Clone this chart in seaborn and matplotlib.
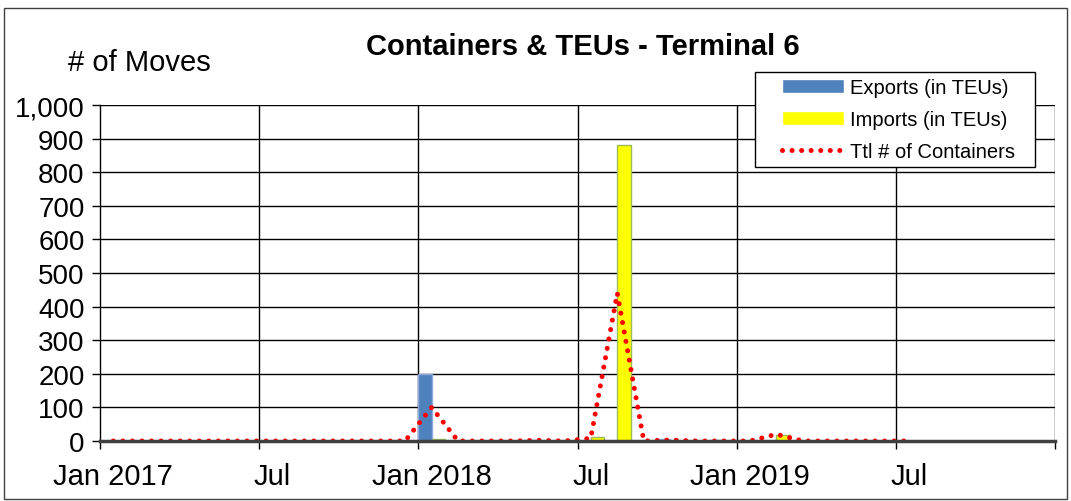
import pandas as pd
import matplotlib
matplotlib.use("Agg")
import matplotlib.pyplot as plt
import matplotlib.patches as mpatches
from matplotlib.ticker import FixedLocator, StrMethodFormatter
import seaborn as sns
import numpy as np

# Months on the axis (Jan 2017 - Dec 2019)
months = pd.date_range("2017-01-01", "2019-12-01", freq="MS").strftime("%Y-%m").tolist()

# Values Jan 2017 - Jul 2019 (31 months)
exports = [0, 0, 0, 0, 0, 0, 0, 0, 0, 0, 0, 0,
           200, 0, 0, 0, 3, 0, 0, 0, 0, 6, 0, 3,
           0, 0, 0, 0, 0, 0, 0]
imports = [0, 0, 0, 0, 0, 0, 0, 0, 0, 0, 0, 0,
           5, 0, 0, 0, 0, 0, 12, 880, 0, 0, 0, 0,
           0, 18, 0, 0, 0, 0, 0]
containers = [0, 0, 0, 0, 0, 0, 0, 0, 0, 0, 0, 0,
              100, 0, 0, 0, 2, 0, 8, 440, 0, 3, 0, 0,
              0, 20, 0, 0, 0, 0, 0]

tick_labels = ["Jan 2017", "Jul", "Jan 2018", "Jul", "Jan 2019", "Jul"]

n = len(exports)
df = pd.DataFrame({
    "month": months[:n] * 2,
    "series": ["Exports (in TEUs)"] * n + ["Imports (in TEUs)"] * n,
    "value": exports + imports,
})

sns.set_style("white")
plt.rcParams["font.family"] = ["Liberation Sans", "DejaVu Sans"]
plt.rcParams["text.color"] = "black"
plt.rcParams["xtick.color"] = "black"
plt.rcParams["ytick.color"] = "black"

fig = plt.figure(figsize=(10.71, 5.02), dpi=100)
ax = fig.add_axes([100 / 1071, 1 - 442 / 502, 955 / 1071, 336 / 502])

sns.barplot(data=df, x="month", y="value", hue="series", order=months,
            hue_order=["Exports (in TEUs)", "Imports (in TEUs)"],
            palette=["#4F81BD", "#FFFF00"], saturation=1, width=1.0, gap=0, dodge=True,
            errorbar=None, ax=ax, zorder=3)

edge_cols = ["#8EA9DB", "#9BBB59"]
for cont, ec in zip(ax.containers, edge_cols):
    for p in cont:
        p.set_edgecolor(ec)
        p.set_linewidth(1)

sns.lineplot(x=np.arange(n), y=containers, ax=ax, color="#FF0000",
             linewidth=3.6, dashes=False, label="Ttl # of Containers", zorder=4)
line = ax.lines[-1]
line.set_linestyle((0, (0.01, 1.9)))
line.set_dash_capstyle("round")

ax.set_xlim(-0.5, len(months) - 0.5)
ax.set_ylim(0, 1000)
ax.set_xlabel("")
ax.set_ylabel("")

# gridlines and ticks
ax.yaxis.set_major_locator(FixedLocator(np.arange(0, 1001, 100)))
ax.yaxis.set_major_formatter(StrMethodFormatter("{x:,.0f}"))
ax.grid(axis="y", color="black", linewidth=1, zorder=0)
ax.set_axisbelow(True)

grid_x = np.arange(-0.5, len(months), 6)
ax.set_xticks(grid_x)
ax.set_xticklabels([""] * len(grid_x))
ax.set_xticks(np.arange(0, 36, 6), minor=True)
ax.set_xticklabels(tick_labels, minor=True)
for gx in grid_x[1:]:
    ax.axvline(gx, color="black", linewidth=1, zorder=0)

ax.tick_params(axis="x", which="major", direction="out", length=6, width=1, color="black")
ax.tick_params(axis="x", which="minor", length=0, pad=15, labelsize=21)
ax.tick_params(axis="y", direction="out", length=6, width=1, color="black", labelsize=20, pad=5)
ax.tick_params(left=True, bottom=True)

for s in ["top", "right"]:
    ax.spines[s].set_visible(False)
ax.spines["left"].set_color("black")
ax.spines["left"].set_linewidth(1)
ax.spines["bottom"].set_color("#404040")
ax.spines["bottom"].set_linewidth(2.5)
ax.spines["bottom"].set_zorder(5)

# legend: box drawn separately so the padding can differ per side
box = mpatches.Rectangle((755 / 1071, 1 - 168 / 502), 280 / 1071, 95 / 502,
                         transform=fig.transFigure, facecolor="white", edgecolor="black",
                         linewidth=1, clip_on=False, zorder=6)
ax.add_patch(box)
handles, labels = ax.get_legend_handles_labels()
leg = ax.legend(handles, labels, loc="upper left", bbox_to_anchor=(782 / 1071, 1 - 79 / 502),
                bbox_transform=fig.transFigure, borderaxespad=0, borderpad=0, fontsize=14.5,
                frameon=False, handlelength=3.1, labelspacing=0.65, handletextpad=0.3)
leg.set_zorder(7)

fig.text(583 / 1071, 1 - 47 / 502, "Containers & TEUs - Terminal 6", ha="center", va="center",
         fontsize=21, fontweight="bold")
fig.text(68 / 1071, 1 - 63 / 502, "# of Moves", ha="left", va="center", fontsize=21)

fig.patches.append(mpatches.Rectangle((0.004, 0.004), 0.992, 0.978, transform=fig.transFigure,
                                      fill=False, edgecolor="#404040", linewidth=1))

fig.savefig("out.png", dpi=100)
